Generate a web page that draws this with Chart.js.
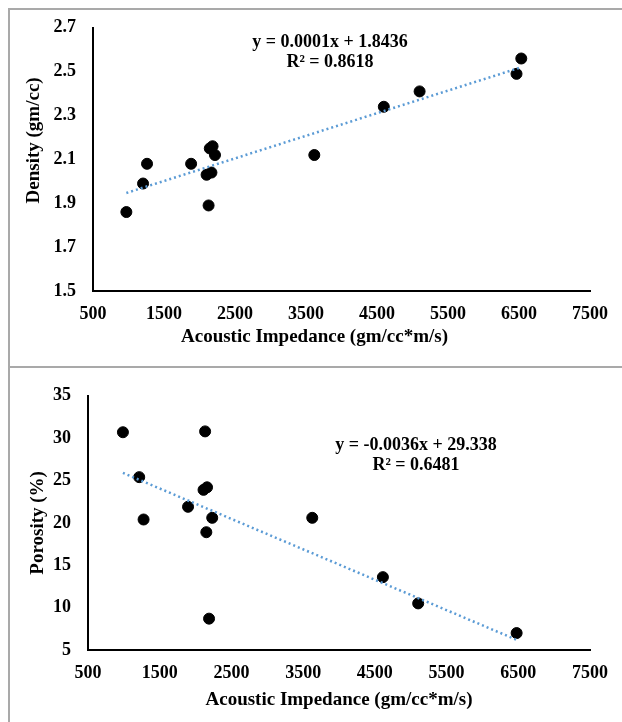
<!DOCTYPE html>
<html>
<head>
<meta charset="utf-8">
<style>
  body { margin: 0; background: #fff; }
  #wrap { position: relative; width: 622px; height: 722px; overflow: hidden; }
  canvas { position: absolute; left: 0; }
  #c1 { top: 0; }
  #c2 { top: 368px; }
  .frame { position: absolute; left: 8px; top: 8px; width: 614px; height: 714px;
           border-left: 2px solid #a9a9a9; border-top: 2px solid #a9a9a9; box-sizing: border-box; }
  .sep { position: absolute; left: 8px; top: 366px; width: 614px; height: 2px; background: #a9a9a9; }
</style>
</head>
<body>
<div id="wrap">
  <canvas id="c1" width="622" height="366"></canvas>
  <canvas id="c2" width="622" height="354"></canvas>
  <div class="frame"></div>
  <div class="sep"></div>
</div>

<script src="https://cdn.jsdelivr.net/npm/chart.js"></script>
<script>
  // Acoustic impedance vs density (top panel)
  const densityAI = [970, 1205, 1261, 1882, 2100, 2168, 2128, 2145, 2184, 2218, 3617, 4596, 5100, 6465, 6532];
  const density   = [1.86, 1.99, 2.08, 2.08, 2.03, 2.04, 1.89, 2.15, 2.16, 2.12, 2.12, 2.34, 2.41, 2.49, 2.56];
  const densityTrendX = [970, 6532];
  const densityTrendY = [1.947, 2.52];

  // Acoustic impedance vs porosity (bottom panel)
  const porosityAI = [987, 1214, 1275, 1895, 2133, 2111, 2160, 2232, 2150, 2188, 3627, 4612, 5104, 6477];
  const porosity   = [30.7, 25.4, 20.4, 21.9, 30.8, 23.9, 24.2, 20.6, 18.9, 8.7, 20.6, 13.6, 10.5, 7.0];
  const porosityTrendX = [987, 6477];
  const porosityTrendY = [25.9, 6.2];

  const xTitle = 'Acoustic Impedance (gm/cc*m/s)';
  const FONT = "'Liberation Serif', 'Times New Roman', serif";

  const pts = (xs, ys) => xs.map((x, i) => ({ x: x, y: ys[i] }));

  // draws axis titles and the trendline equation
  const textPlugin = {
    id: 'texts',
    afterDraw(chart, args, o) {
      const ctx = chart.ctx;
      const a = chart.chartArea;
      ctx.save();
      ctx.fillStyle = '#000';
      ctx.textAlign = 'center';
      ctx.textBaseline = 'middle';
      ctx.font = 'bold 19px ' + FONT;
      ctx.fillText(o.xTitle, (a.left + a.right) / 2 + o.xdx, a.bottom + o.xdy);
      ctx.save();
      ctx.translate(a.left - o.ydx, (a.top + a.bottom) / 2 + o.ydy);
      ctx.rotate(-Math.PI / 2);
      ctx.fillText(o.yTitle, 0, 0);
      ctx.restore();
      ctx.font = 'bold 18px ' + FONT;
      const ex = chart.scales.x.getPixelForValue(o.eqAt[0]);
      const ey = chart.scales.y.getPixelForValue(o.eqAt[1]);
      o.eq.forEach((line, i) => ctx.fillText(line, ex, ey + i * 20));
      ctx.restore();
    }
  };

  function makeChart(id, xs, ys, tx, ty, yMin, yMax, yStep, yLeft, padTop, xHeight, texts) {
    return new Chart(document.getElementById(id), {
      type: 'scatter',
      data: {
        datasets: [
          {
            data: pts(tx, ty),
            showLine: true,
            borderColor: '#5B9BD5',
            borderWidth: 2.5,
            borderDash: [2, 3],
            pointRadius: 0
          },
          {
            data: pts(xs, ys),
            backgroundColor: '#000',
            borderColor: '#000',
            pointRadius: 5.5
          }
        ]
      },
      options: {
        responsive: false,
        animation: false,
        layout: { padding: { top: padTop, right: 32, left: 0, bottom: 0 } },
        scales: {
          x: {
            type: 'linear',
            min: 500, max: 7500,
            grid: { drawOnChartArea: false, drawTicks: false },
            border: { color: '#000', width: 2 },
            ticks: {
              stepSize: 1000, padding: 13, color: '#000',
              font: { family: FONT, size: 18, weight: 'bold' },
              callback: v => String(v)
            },
            afterFit: s => { s.height = xHeight; }
          },
          y: {
            min: yMin, max: yMax,
            grid: { drawOnChartArea: false, drawTicks: false },
            border: { color: '#000', width: 2 },
            ticks: {
              stepSize: yStep, padding: 17, color: '#000',
              font: { family: FONT, size: 18, weight: 'bold' }
            },
            afterFit: s => { s.width = yLeft; }
          }
        },
        plugins: {
          legend: { display: false },
          tooltip: { enabled: false },
          texts: texts
        }
      },
      plugins: [textPlugin]
    });
  }

  makeChart('c1', densityAI, density, densityTrendX, densityTrendY, 1.5, 2.7, 0.2, 93, 27, 75, {
    xTitle: xTitle, xdx: -27, xdy: 46,
    yTitle: 'Density (gm/cc)', ydx: 59, ydy: -19,
    eq: ['y = 0.0001x + 1.8436', 'R² = 0.8618'], eqAt: [3838, 2.632]
  });

  makeChart('c2', porosityAI, porosity, porosityTrendX, porosityTrendY, 5, 35, 5, 88, 18, 72, {
    xTitle: xTitle, xdx: 0, xdy: 50,
    yTitle: 'Porosity (%)', ydx: 50, ydy: 0,
    eq: ['y = -0.0036x + 29.338', 'R² = 0.6481'], eqAt: [5074, 29.2]
  });
</script>
</body>
</html>
